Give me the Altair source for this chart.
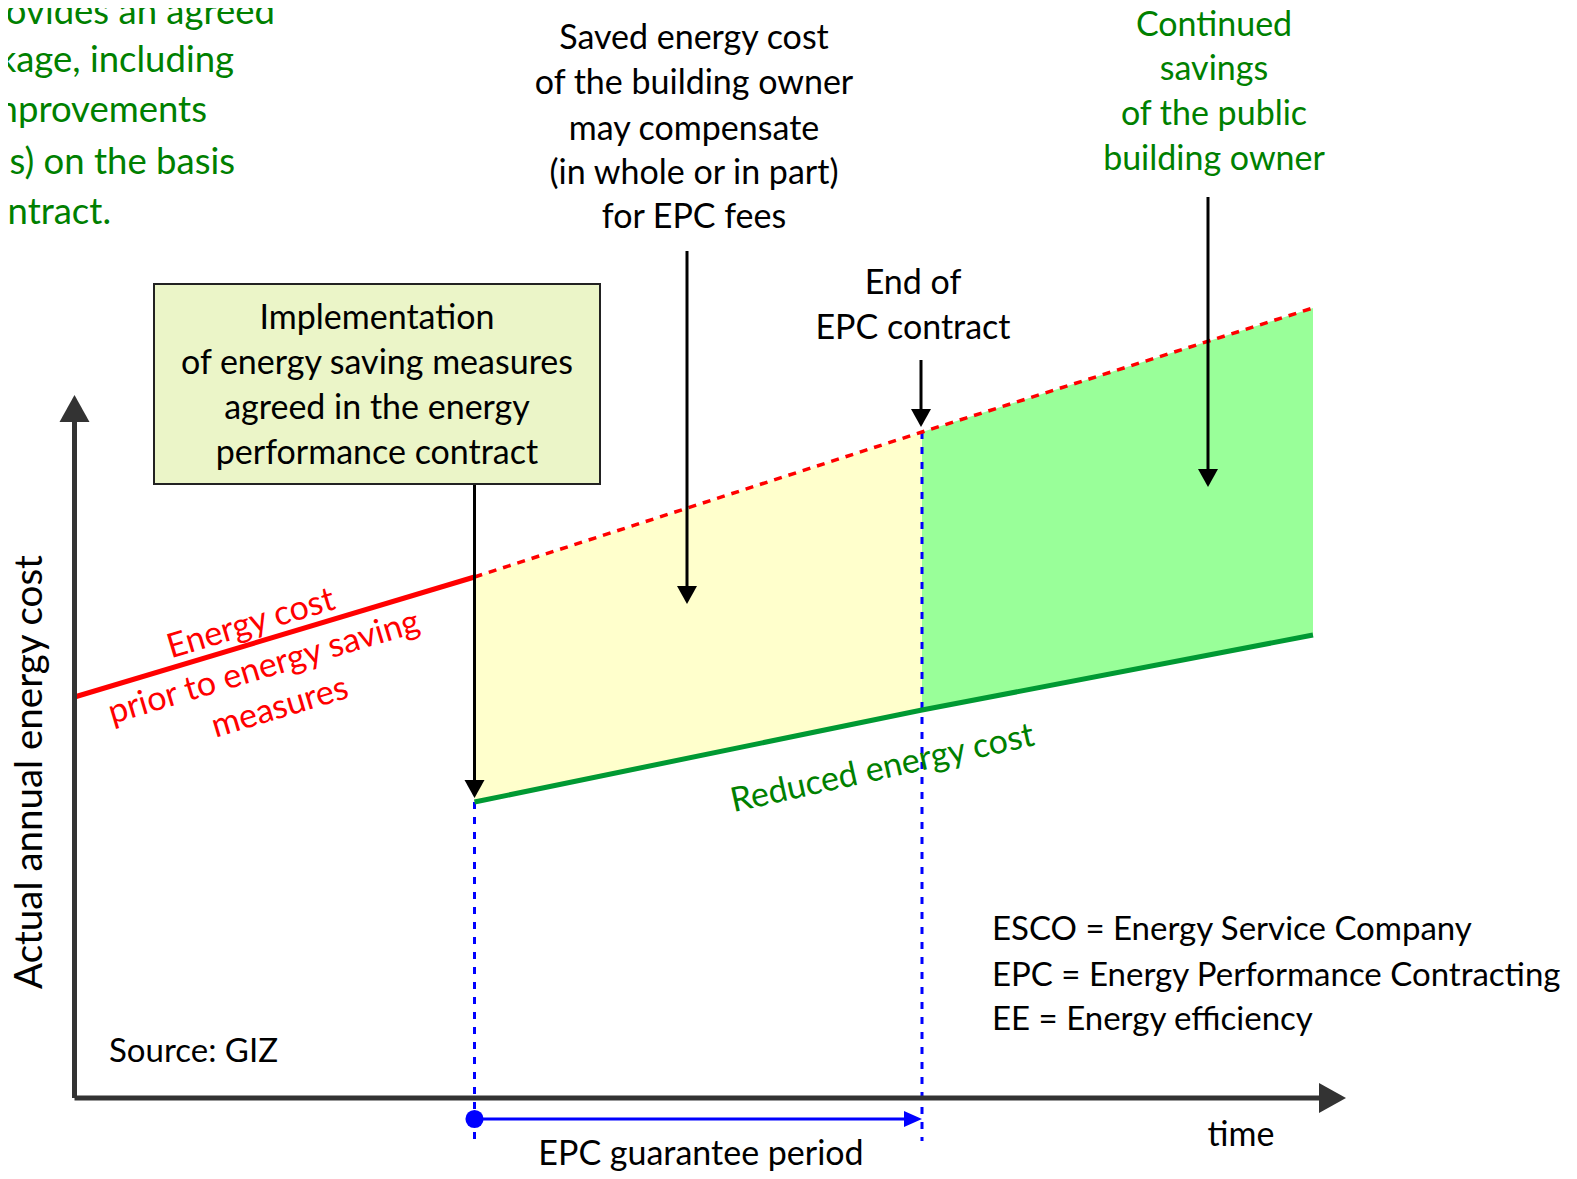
import altair as alt
import pandas as pd

# ---- schematic values (time units / annual energy cost units) ----
contract_start = 4.0
contract_end = 8.475
time_end = 12.385
time_pts = [0.0, contract_start, contract_end, time_end]
cost_before = [3.99, 5.19, 6.64, 7.88]      # energy cost prior to measures (red)
cost_after = [2.94, 3.86, 4.61]             # reduced energy cost at start, end of contract, final (green)

# annotation arrows: (time, from cost, tip cost)
arrow_t = [4.0, 6.125, 8.465, 11.335]
arrow_from = [6.12, 8.45, 7.36, 8.99]
arrow_tip = [2.98, 4.92, 6.69, 6.09]

box_lines = ["Implementation", "of energy saving measures", "agreed in the energy", "performance contract"]
saved_lines = ["Saved energy cost", "of the building owner", "may compensate", "(in whole or in part)", "for EPC fees"]
end_lines = ["End of", "EPC contract"]
cont_lines = ["Continued", "savings", "of the public", "building owner"]
legend_lines = ["ESCO = Energy Service Company", "EPC = Energy Performance Contracting", "EE = Energy efficiency"]
topleft_lines = ["ovides  an agreed", "kage, including", "nprovements", "s) on the basis", "ontract."]
red_lines = ["Energy cost", "prior to energy saving", "measures"]

W, H = 1561, 1163
xs = alt.Scale(domain=[-0.665, -0.665 + W / 100.0], nice=False, zero=False)
ys = alt.Scale(domain=[10.88 - H / 100.0, 10.88], nice=False, zero=False)

def X(f="t"):
    return alt.X(f, type="quantitative", scale=xs, axis=None)

def Y(f="c"):
    return alt.Y(f, type="quantitative", scale=ys, axis=None)

FONT = "Lato"
RED = "#FF0000"
GLINE = "#009933"
GTEXT = "#008000"
BLUE = "#0000FF"
AX = "#333333"

layers = []

# fills
yellow = pd.DataFrame({"t": time_pts[1:3], "c": cost_before[1:3], "c2": cost_after[0:2]})
greenf = pd.DataFrame({"t": time_pts[2:4], "c": cost_before[2:4], "c2": cost_after[1:3]})
layers.append(alt.Chart(yellow).mark_area(color="#FFFFCC", opacity=1).encode(x=X(), y=Y(), y2="c2"))
layers.append(alt.Chart(greenf).mark_area(color="#99FF99", opacity=1).encode(x=X(), y=Y(), y2="c2"))

# blue dotted verticals
vdf = pd.DataFrame({"t": [contract_start, contract_end],
                    "c": [cost_after[0], cost_before[2]], "c2": [-0.45, -0.45]})
layers.append(alt.Chart(vdf).mark_rule(color=BLUE, strokeWidth=3, strokeDash=[7, 8]).encode(x=X(), y=Y(), y2="c2"))

# red lines
red_solid = pd.DataFrame({"t": time_pts[0:2], "c": cost_before[0:2]})
red_dash = pd.DataFrame({"t": time_pts[1:4], "c": cost_before[1:4]})
layers.append(alt.Chart(red_solid).mark_line(color=RED, strokeWidth=5).encode(x=X(), y=Y()))
layers.append(alt.Chart(red_dash).mark_line(color=RED, strokeWidth=3.5, strokeDash=[8, 7]).encode(x=X(), y=Y()))

# green line
gl = pd.DataFrame({"t": time_pts[1:4], "c": cost_after})
layers.append(alt.Chart(gl).mark_line(color=GLINE, strokeWidth=5).encode(x=X(), y=Y()))

# axes
yax = pd.DataFrame({"t": [0.0], "c": [-0.02], "c2": [6.8]})
xax = pd.DataFrame({"t": [0.0], "t2": [12.5], "c": [-0.02]})
layers.append(alt.Chart(yax).mark_rule(color=AX, strokeWidth=5).encode(x=X(), y=Y(), y2="c2"))
layers.append(alt.Chart(xax).mark_rule(color=AX, strokeWidth=5).encode(x=X(), x2="t2", y=Y()))
layers.append(alt.Chart(pd.DataFrame({"t": [0.0], "c": [6.875]})).mark_point(
    shape="M0,-0.9L1,0.9L-1,0.9Z", size=900, filled=True, color=AX, opacity=1, strokeWidth=0
).encode(x=X(), y=Y()))
layers.append(alt.Chart(pd.DataFrame({"t": [12.58], "c": [-0.02]})).mark_point(
    shape="M0.9,0L-0.9,-1L-0.9,1Z", size=900, filled=True, color=AX, opacity=1, strokeWidth=0
).encode(x=X(), y=Y()))

# black annotation arrows
adf = pd.DataFrame({"t": arrow_t, "c": arrow_from, "c2": [v + 0.1 for v in arrow_tip]})
hdf = pd.DataFrame({"t": arrow_t, "c": [v + 0.1 for v in arrow_tip]})
layers.append(alt.Chart(adf).mark_rule(color="black", strokeWidth=3).encode(x=X(), y=Y(), y2="c2"))
layers.append(alt.Chart(hdf).mark_point(
    shape="M0,1L1,-0.8L-1,-0.8Z", size=400, filled=True, color="black", opacity=1, strokeWidth=0
).encode(x=X(), y=Y()))

# blue guarantee-period arrow
bdf = pd.DataFrame({"t": [contract_start], "t2": [contract_end - 0.12], "c": [-0.23]})
layers.append(alt.Chart(bdf).mark_rule(color=BLUE, strokeWidth=3).encode(x=X(), x2="t2", y=Y()))
layers.append(alt.Chart(pd.DataFrame({"t": [contract_end - 0.09], "c": [-0.23]})).mark_point(
    shape="M1,0L-1,-0.9L-1,0.9Z", size=324, filled=True, color=BLUE, opacity=1, strokeWidth=0
).encode(x=X(), y=Y()))
layers.append(alt.Chart(pd.DataFrame({"t": [contract_start], "c": [-0.23]})).mark_circle(
    size=330, color=BLUE, opacity=1
).encode(x=X(), y=Y()))

# box
box = pd.DataFrame({"t": [0.795], "t2": [5.255], "c": [8.12], "c2": [6.12]})
layers.append(alt.Chart(box).mark_rect(fill="#EBF5C8", stroke="#222222", strokeWidth=2).encode(
    x=X(), x2="t2", y=Y(), y2="c2"))

# texts
rows_c = []
def add(rows, t, c, txt, color, size, angle=0):
    rows.append({"t": t, "c": c, "txt": txt, "col": color, "fs": size, "ang": angle})

for txt, c in zip(box_lines, [7.77, 7.32, 6.87, 6.42]):
    add(rows_c, 3.025, c, txt, "black", 34)
for txt, c in zip(saved_lines, [10.57, 10.12, 9.66, 9.22, 8.78]):
    add(rows_c, 6.195, c, txt, "black", 34)
for txt, c in zip(end_lines, [8.12, 7.67]):
    add(rows_c, 8.385, c, txt, "black", 34)
for txt, c in zip(cont_lines, [10.70, 10.265, 9.815, 9.365]):
    add(rows_c, 11.395, c, txt, GTEXT, 34)
add(rows_c, 11.665, -0.40, "time", "black", 34)
add(rows_c, 6.265, -0.585, "EPC guarantee period", "black", 34)
add(rows_c, -0.445, 3.24, "Actual annual energy cost", "black", 38.5, 270)
for txt, t, c in zip(red_lines, [1.765, 1.895, 2.055], [4.72, 4.28, 3.88]):
    add(rows_c, t, c, txt, RED, 34, 343.3)
add(rows_c, 8.08, 3.27, "Reduced energy cost", GTEXT, 34, 347.5)

rows_l = []
for txt, c in zip(legend_lines, [1.665, 1.205, 0.765]):
    add(rows_l, 9.175, c, txt, "black", 33)
add(rows_l, 0.345, 0.44, "Source: GIZ", "black", 33)

rows_r = []
for txt, t, c in zip(topleft_lines, [2.005, 1.595, 1.325, 1.605, 0.365], [10.83, 10.35, 9.85, 9.33, 8.83]):
    add(rows_r, t, c, txt, GTEXT, 36.5)

def text_layer(rows, align):
    return alt.Chart(pd.DataFrame(rows)).mark_text(
        align=align, baseline="middle", font=FONT
    ).encode(
        x=X(), y=Y(), text="txt:N",
        color=alt.Color("col:N", scale=None),
        size=alt.Size("fs:Q", scale=None),
        angle=alt.Angle("ang:Q", scale=None),
    )

layers.append(text_layer(rows_c, "center"))
layers.append(text_layer(rows_l, "left"))
layers.append(text_layer(rows_r, "right"))

chart = alt.layer(*layers).properties(
    width=W, height=H, padding=0,
    autosize=alt.AutoSizeParams(type="none"),
).configure_view(stroke="transparent", strokeWidth=0)

chart.save("out.html", embed_options={"renderer": "svg", "actions": False})
